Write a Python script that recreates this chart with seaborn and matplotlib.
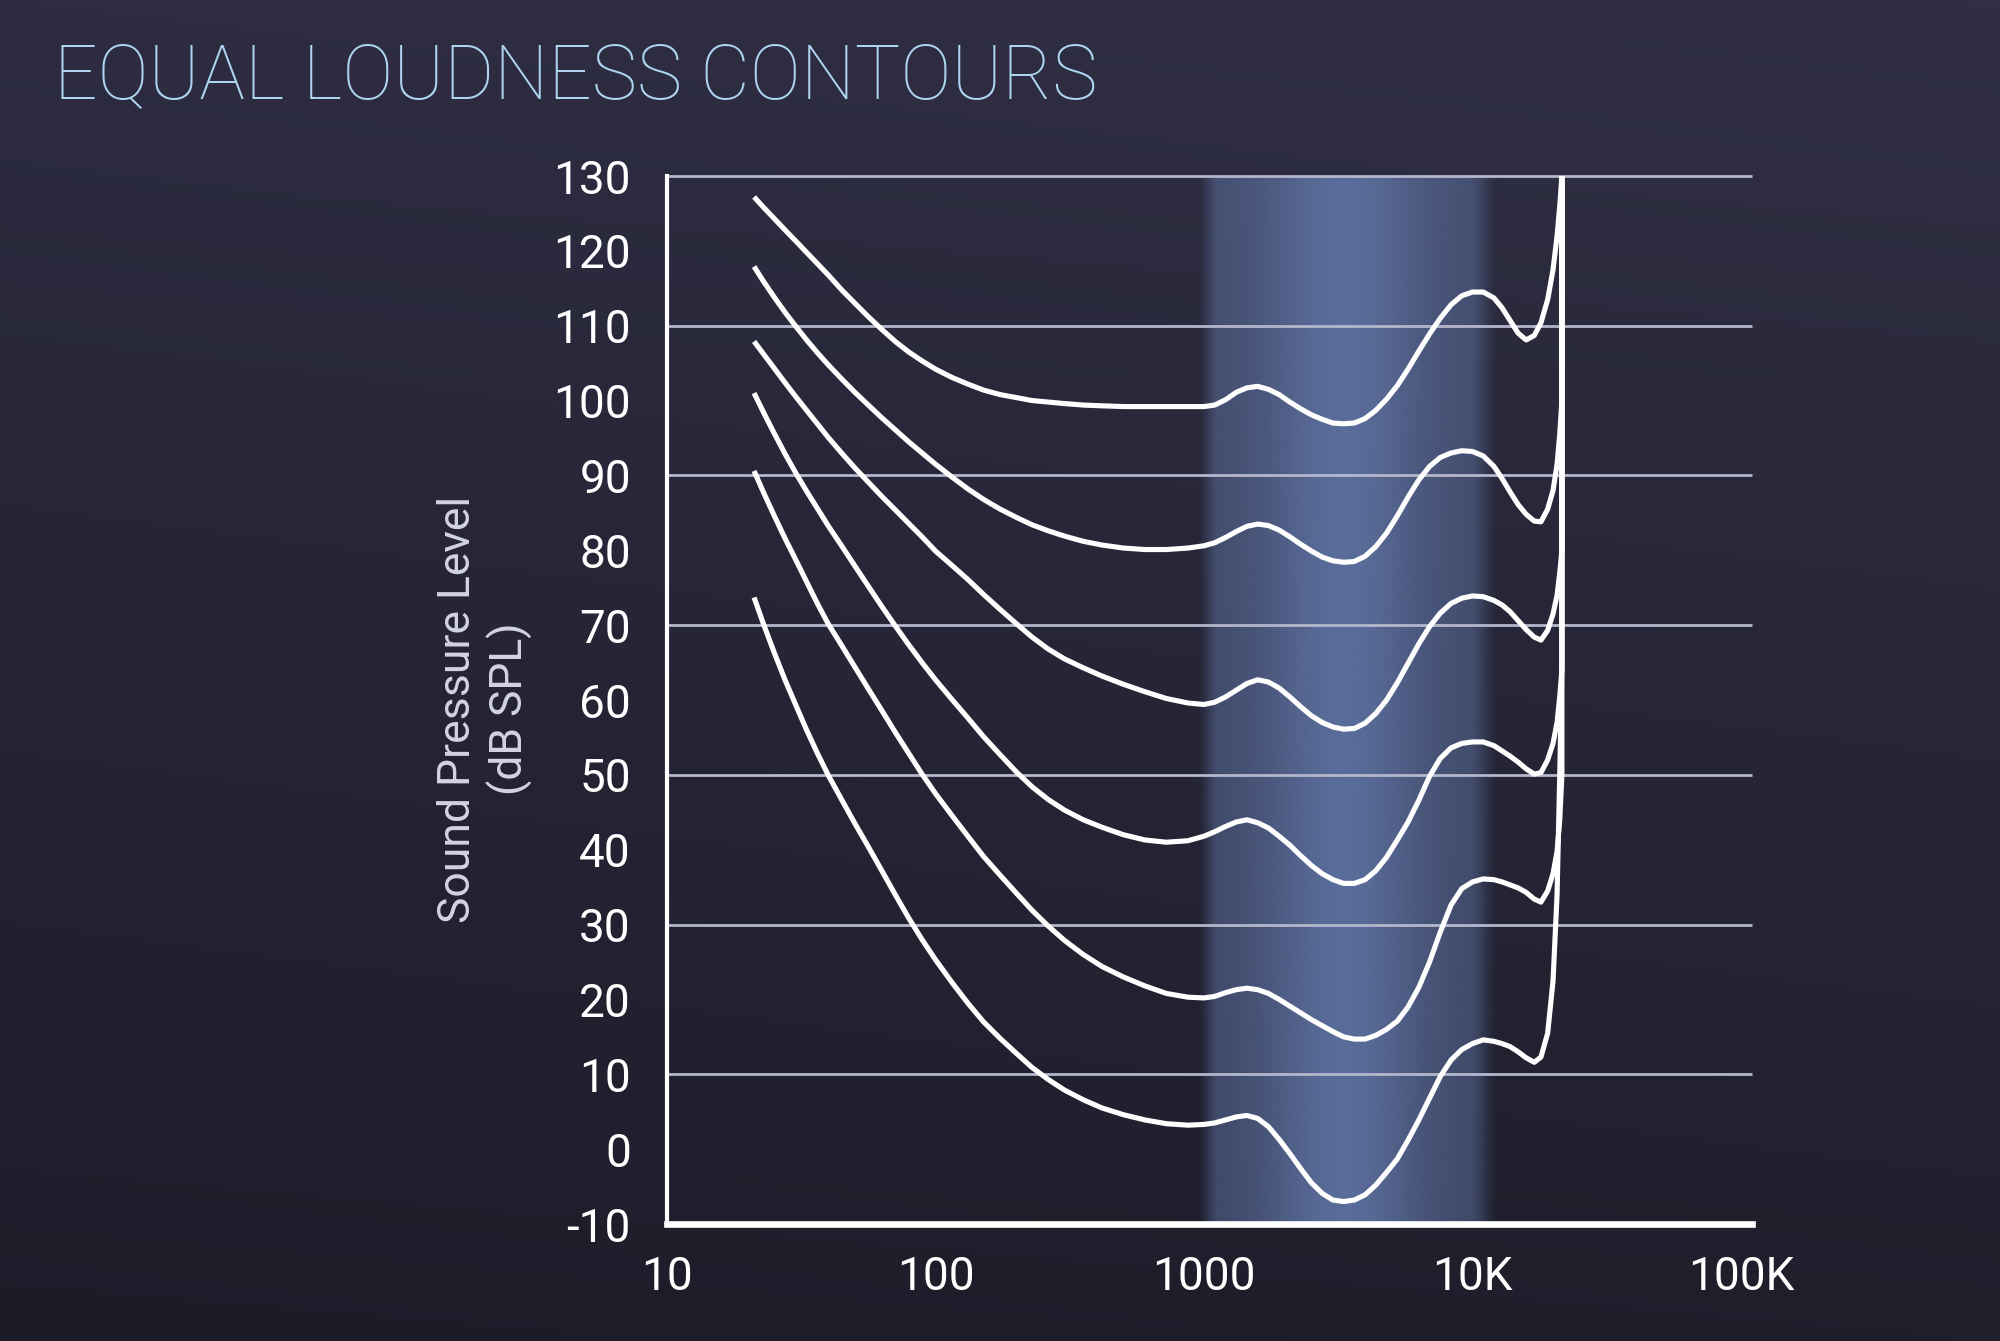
import numpy as np
import pandas as pd
import matplotlib
matplotlib.use("Agg")
import matplotlib.pyplot as plt
import seaborn as sns
from matplotlib.ticker import NullLocator
from matplotlib.colors import to_rgb

# ---------------- data ----------------
title_text = "EQUAL LOUDNESS CONTOURS"
y_label_text = "Sound Pressure Level\n(dB SPL)"
x_tick_values = [10, 100, 1000, 10000, 100000]
x_tick_labels = ["10", "100", "1000", "10K", "100K"]
y_tick_values = list(range(-10, 131, 10))
grid_levels = [10, 30, 50, 70, 90, 110, 130]

# frequencies (Hz) at which the contours were read; last entry is the vertical end at ~21.5 kHz
freq_hz = [21.1, 22.9, 25.1, 27.5, 30.2, 33.1, 36.3, 39.8, 44.7, 50.1, 56.2, 63.1, 70.8,
           79.4, 89.1, 100, 115, 132, 151, 174, 200, 229, 263, 302, 355, 417, 501, 603,
           724, 871, 1000, 1096, 1202, 1318, 1445, 1585, 1738, 1905, 2089, 2291, 2512,
           2754, 3020, 3311, 3631, 3981, 4365, 4786, 5248, 5754, 6310, 6918, 7586, 8318,
           9120, 10000, 10965, 12023, 12882, 13804, 14791, 15849, 16982, 17989, 19055,
           19953, 20654, 21135, 21528, 21528]

spl_c1 = [127.2, 125.8, 124.3, 122.8, 121.3, 119.8, 118.3, 116.8, 114.8, 113.0, 111.2, 109.5,
          107.9, 106.5, 105.3, 104.2, 103.1, 102.2, 101.4, 100.8, 100.4, 100.0, 99.8, 99.6,
          99.4, 99.3, 99.2, 99.2, 99.2, 99.2, 99.2, 99.4, 100.1, 101.1, 101.7, 101.9, 101.5,
          100.8, 99.8, 98.9, 98.1, 97.5, 97.0, 96.9, 97.0, 97.6, 98.7, 100.2, 102.0, 104.2,
          106.6, 108.9, 111.0, 112.8, 114.0, 114.5, 114.5, 113.7, 112.4, 110.7, 109.0, 108.1,
          108.7, 110.4, 113.5, 117.5, 122.0, 126.0, 130.0, 130.0]

spl_c2 = [117.9, 115.9, 113.8, 111.8, 109.9, 108.1, 106.4, 104.8, 102.9, 101.1, 99.4, 97.7,
          96.1, 94.5, 93.0, 91.5, 89.8, 88.2, 86.8, 85.5, 84.4, 83.4, 82.6, 81.9, 81.2, 80.7,
          80.3, 80.1, 80.1, 80.3, 80.6, 81.0, 81.7, 82.5, 83.2, 83.5, 83.3, 82.7, 81.8, 80.8,
          79.9, 79.1, 78.6, 78.4, 78.5, 79.2, 80.5, 82.3, 84.6, 87.1, 89.4, 91.2, 92.4, 93.0,
          93.3, 93.2, 92.6, 91.2, 89.6, 87.8, 86.1, 84.8, 83.9, 83.8, 85.5, 88.0, 91.5, 95.5,
          100.0, 130.0]

spl_c3 = [107.9, 106.2, 104.3, 102.4, 100.5, 98.7, 96.9, 95.1, 93.0, 91.0, 89.1, 87.2, 85.4,
          83.6, 81.8, 79.9, 78.0, 76.1, 74.1, 72.1, 70.2, 68.4, 66.8, 65.5, 64.3, 63.2, 62.1,
          61.1, 60.2, 59.6, 59.4, 59.7, 60.4, 61.3, 62.2, 62.7, 62.4, 61.6, 60.4, 59.1, 57.9,
          57.0, 56.4, 56.1, 56.2, 56.9, 58.2, 60.0, 62.3, 64.9, 67.5, 69.8, 71.6, 72.9, 73.6,
          73.9, 73.8, 73.3, 72.7, 71.8, 70.6, 69.4, 68.4, 68.0, 69.3, 71.5, 74.0, 77.0, 80.0,
          130.0]

spl_c4 = [101.0, 98.4, 95.6, 92.9, 90.3, 87.9, 85.6, 83.3, 80.6, 77.9, 75.2, 72.5, 69.9,
          67.4, 65.0, 62.7, 60.1, 57.6, 55.1, 52.7, 50.4, 48.4, 46.7, 45.3, 44.0, 43.0, 42.0,
          41.3, 41.0, 41.2, 41.8, 42.4, 43.1, 43.7, 44.0, 43.6, 42.9, 41.8, 40.6, 39.2, 37.9,
          36.8, 36.0, 35.5, 35.5, 36.0, 37.2, 39.0, 41.3, 43.7, 46.6, 49.8, 52.2, 53.6, 54.2,
          54.4, 54.4, 53.9, 53.2, 52.5, 51.7, 50.8, 50.1, 50.3, 52.0, 54.2, 57.0, 60.5, 64.0,
          130.0]

spl_c5 = [90.6, 87.7, 84.6, 81.6, 78.7, 75.8, 72.9, 70.2, 67.3, 64.4, 61.5, 58.6, 55.7, 52.9,
          50.1, 47.5, 44.6, 41.8, 39.1, 36.6, 34.2, 31.9, 29.8, 27.9, 26.0, 24.4, 23.0, 21.8,
          20.8, 20.3, 20.2, 20.4, 20.9, 21.3, 21.5, 21.3, 20.8, 20.0, 19.1, 18.2, 17.3, 16.5,
          15.7, 15.0, 14.7, 14.7, 15.2, 16.0, 17.1, 19.0, 21.6, 25.0, 29.0, 32.6, 34.8, 35.7,
          36.1, 36.0, 35.7, 35.3, 34.9, 34.3, 33.4, 33.0, 34.5, 36.8, 39.8, 44.0, 50.0, 130.0]

spl_c6 = [73.7, 70.1, 66.3, 62.7, 59.3, 56.0, 52.9, 50.0, 46.7, 43.5, 40.4, 37.2, 34.0, 30.9,
          28.0, 25.3, 22.3, 19.5, 17.0, 14.8, 12.8, 10.9, 9.3, 7.9, 6.6, 5.5, 4.6, 3.9, 3.4,
          3.2, 3.3, 3.5, 3.9, 4.3, 4.5, 4.1, 3.0, 1.3, -0.6, -2.6, -4.5, -5.9, -6.8, -7.0,
          -6.8, -6.1, -4.8, -3.1, -1.3, 1.2, 3.9, 6.8, 9.7, 11.9, 13.3, 14.1, 14.6, 14.4,
          14.1, 13.7, 13.0, 12.2, 11.6, 12.3, 15.5, 22.5, 34.0, 50.0, 65.0, 130.0]

curves = {"c1": spl_c1, "c2": spl_c2, "c3": spl_c3, "c4": spl_c4, "c5": spl_c5, "c6": spl_c6}
df = pd.concat([pd.DataFrame({"curve": k, "order": np.arange(len(v)), "freq": freq_hz, "spl": v})
                for k, v in curves.items()], ignore_index=True)

# ---------------- style ----------------
sns.set_theme(style="dark")
plt.rcParams['font.family'] = ['Roboto', 'DejaVu Sans']

W, H = 2000, 1341
fig = plt.figure(figsize=(W / 100, H / 100), dpi=100)

# full-figure dark gradient background
bg = fig.add_axes([0, 0, 1, 1], zorder=-3)
top_c = np.array(to_rgb('#2d2c41'))
bot_c = np.array(to_rgb('#1c1c29'))
yy = np.linspace(0, 1, 300)[:, None, None]
xx = np.linspace(0, 1, 300)[None, :, None]
grad = top_c * (1 - yy) + bot_c * yy + 0.012 * xx
grad = np.clip(grad, 0, 1)
bg.imshow(grad, aspect='auto', extent=[0, 1, 0, 1], interpolation='bicubic')
bg.set_axis_off()

x_right = 10 ** 5.041
rect = [667 / W, 1 - 1224 / H, (1752 - 667) / W, (1224 - 176) / H]

# highlighted frequency band (drawn in log10-frequency units)
band_lo, band_hi = 2.975, 4.10
band = fig.add_axes(rect, zorder=-2)
band.set_xlim(1, np.log10(x_right))
band.set_ylim(-10, 130)
band.set_axis_off()
lx = np.linspace(band_lo, band_hi, 500)
t = (lx - band_lo) / (band_hi - band_lo)
edge = np.clip(t / 0.07, 0, 1) * np.clip((1 - t) / 0.10, 0, 1)
edge = edge * edge * (3 - 2 * edge)
prof = edge * (0.52 + 0.48 * np.exp(-((lx - 3.52) / 0.30) ** 2))
band_rgb = np.array(to_rgb('#5d71a0'))
img = np.zeros((2, lx.size, 4))
img[..., :3] = band_rgb
img[..., 3] = 0.95 * prof
band.imshow(img, aspect='auto', extent=[band_lo, band_hi, -10, 130], interpolation='bilinear')

# main axes
ax = fig.add_axes(rect, zorder=1)
ax.set_facecolor('none')
ax.set_xscale('log')
ax.set_xlim(10, x_right)
ax.set_ylim(-10, 130)

ax.hlines(grid_levels, 10, x_right, colors='#b4b7cc', linewidth=2.0, zorder=1, clip_on=False)

sns.lineplot(data=df, x="freq", y="spl", units="curve", estimator=None, sort=False,
             color='white', linewidth=3.7, ax=ax, legend=False, zorder=3)
for ln in ax.lines:
    ln.set_solid_joinstyle('round')
    ln.set_solid_capstyle('butt')
    ln.set_clip_on(False)

for side in ['top', 'right']:
    ax.spines[side].set_visible(False)
ax.spines['left'].set_color('white')
ax.spines['left'].set_linewidth(3.0)
ax.spines['bottom'].set_color('white')
ax.spines['bottom'].set_linewidth(4.8)
ax.spines['left'].set_zorder(4)
ax.spines['bottom'].set_zorder(4)

ax.set_xticks(x_tick_values)
ax.set_xticklabels(x_tick_labels)
ax.xaxis.set_minor_locator(NullLocator())
ax.set_yticks(y_tick_values)
ax.set_yticklabels([str(v) for v in y_tick_values])
ax.tick_params(axis='both', length=0, colors='white', labelsize=33)
ax.tick_params(axis='y', pad=26)
ax.tick_params(axis='x', pad=22)
ax.grid(False)
ax.set_xlabel("")
ax.set_ylabel("")

fig.text(485 / W, 1 - 709 / H, y_label_text, rotation=90, ha='center', va='center',
         multialignment='center', color='#d3d4e0', fontsize=32, fontweight='normal',
         linespacing=1.25)

fig.text(54 / W, 1 - 99 / H, title_text, ha='left', va='baseline', color='#aed5f0',
         fontsize=55, fontweight='light')

fig.savefig("out.png", dpi=100, facecolor=fig.get_facecolor())
